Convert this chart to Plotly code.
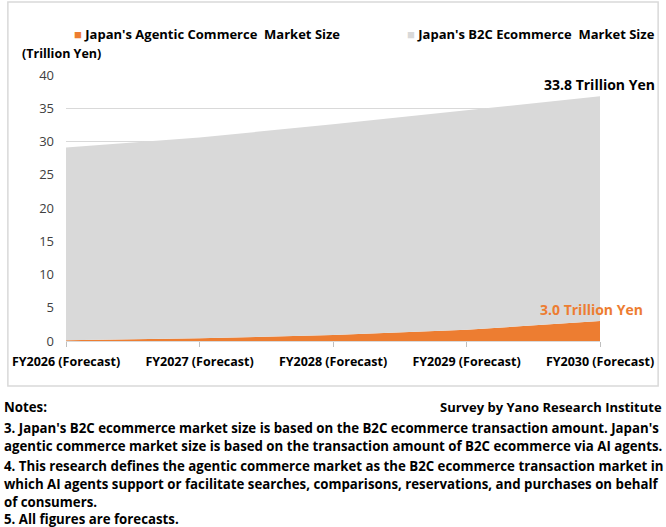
import plotly.graph_objects as go

categories = ["FY2026 (Forecast)", "FY2027 (Forecast)", "FY2028 (Forecast)",
              "FY2029 (Forecast)", "FY2030 (Forecast)"]
agentic = [0.1, 0.4, 0.9, 1.7, 3.0]
b2c = [29.0, 30.2, 31.7, 33.0, 33.8]
y_ticks = [0, 5, 10, 15, 20, 25, 30, 35, 40]

ORANGE = "#ED7D31"
GRAY = "#D9D9D9"
FONT = "Open Sans"

x = list(range(len(categories)))
W, H = 666, 527
L, R, T, B = 62, 62, 75, 186
pw = W - L - R
ph = H - T - B
PAD = 6


def px(xp):
    return (xp - L) / pw


def py(yp):
    return (H - B - yp) / ph


fig = go.Figure()
fig.add_trace(go.Scatter(x=x, y=agentic, stackgroup="s", mode="none",
                         fillcolor=ORANGE, name="Japan's Agentic Commerce  Market Size",
                         showlegend=False))
fig.add_trace(go.Scatter(x=x, y=b2c, stackgroup="s", mode="none",
                         fillcolor=GRAY, name="Japan's B2C Ecommerce  Market Size",
                         showlegend=False))

total_last = agentic[-1] + b2c[-1]

ann = []
# value labels
ann.append(dict(x=x[-1], y=total_last, xref="x", yref="y", xanchor="right",
                yanchor="middle", xshift=51 + PAD, yshift=12, showarrow=False,
                text=f"<b>{b2c[-1]:.1f} Trillion Yen</b>",
                font=dict(family=FONT, size=14, color="#000000")))
ann.append(dict(x=x[-1], y=agentic[-1], xref="x", yref="y", xanchor="right",
                yanchor="middle", xshift=39 + PAD, yshift=12, showarrow=False,
                text=f"<b>{agentic[-1]:.1f} Trillion Yen</b>",
                font=dict(family=FONT, size=14, color=ORANGE)))
# legend
ann.append(dict(x=px(74 - PAD), y=py(34), xref="paper", yref="paper", xanchor="left",
                yanchor="middle", showarrow=False,
                text=f"<span style='color:{ORANGE}'>■</span> <b>Japan's Agentic Commerce  Market Size</b>",
                font=dict(family=FONT, size=13, color="#000000")))
ann.append(dict(x=px(656 + PAD), y=py(34), xref="paper", yref="paper", xanchor="right",
                yanchor="middle", showarrow=False,
                text=f"<span style='color:{GRAY}'>■</span> <b>Japan's B2C Ecommerce  Market Size</b>",
                font=dict(family=FONT, size=13, color="#000000")))
# unit
ann.append(dict(x=px(21 - PAD), y=py(53), xref="paper", yref="paper", xanchor="left",
                yanchor="middle", showarrow=False, text="<b>(Trillion Yen)</b>",
                font=dict(family=FONT, size=12.5, color="#000000")))

notes = [
    (407, "<b>Notes:</b>"),
    (428, "<b>3. Japan's B2C ecommerce market size is based on the B2C ecommerce transaction amount. Japan's</b>"),
    (446, "<b>agentic commerce market size is based on the transaction amount of B2C ecommerce via AI agents.</b>"),
    (466, "<b>4. This research defines the agentic commerce market as the B2C ecommerce transaction market in</b>"),
    (484, "<b>which AI agents support or facilitate searches, comparisons, reservations, and purchases on behalf</b>"),
    (502, "<b>of consumers.</b>"),
    (519, "<b>5. All figures are forecasts.</b>"),
]
for yp, t in notes:
    ann.append(dict(x=px(3 - PAD), y=py(yp), xref="paper", yref="paper", xanchor="left",
                    yanchor="middle", showarrow=False, text=t,
                    font=dict(family=FONT, size=13.25, color="#000000")))
ann.append(dict(x=px(663 + PAD), y=py(407), xref="paper", yref="paper", xanchor="right",
                yanchor="middle", showarrow=False,
                text="<b>Survey by Yano Research Institute</b>",
                font=dict(family=FONT, size=13, color="#000000")))

fig.update_layout(
    width=W, height=H,
    margin=dict(l=L, r=R, t=T, b=B),
    paper_bgcolor="white", plot_bgcolor="white",
    showlegend=False,
    annotations=ann,
    shapes=[dict(type="rect", xref="paper", yref="paper",
                 x0=px(3), x1=px(663), y0=py(386), y1=py(2),
                 line=dict(color="#D9D9D9", width=1.5), layer="below")],
    xaxis=dict(range=[0, len(categories) - 1], tickvals=x, ticktext=[f"<b>{c}</b>" for c in categories],
               showgrid=False, zeroline=False, showline=True, linecolor="#D9D9D9",
               ticks="outside", ticklen=5, tickcolor="#BFBFBF",
               ticklabelstandoff=4,
               tickfont=dict(family=FONT, size=12.5, color="#000000")),
    yaxis=dict(range=[0, 40], tickvals=y_ticks, showgrid=True, gridcolor="#D9D9D9",
               zeroline=False, showline=False, ticks="", ticklabelstandoff=11,
               tickfont=dict(family=FONT, size=13, color="#404040")),
)

fig.write_html("out.html")
